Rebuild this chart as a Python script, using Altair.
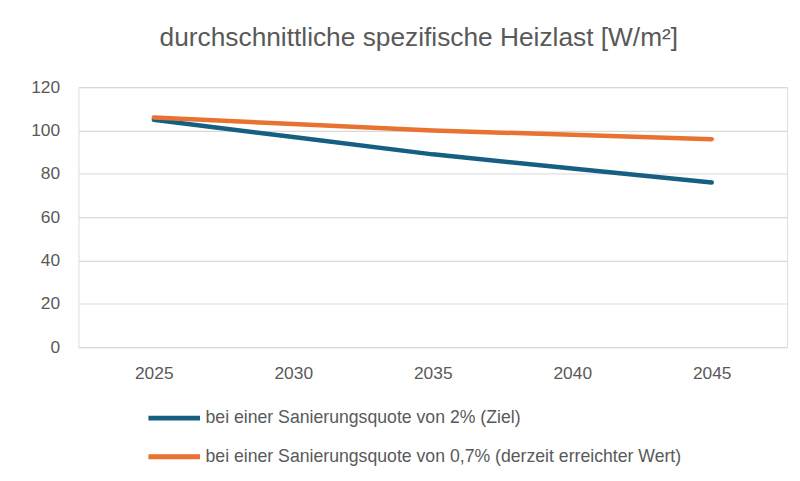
import altair as alt
import pandas as pd

years = ["2025", "2030", "2035", "2040", "2045"]
ziel = [105, 97, 89, 82.5, 76]
derzeit = [106, 103, 100, 98, 96]
series_names = [
    "bei einer Sanierungsquote von 2% (Ziel)",
    "bei einer Sanierungsquote von 0,7% (derzeit erreichter Wert)",
]
colors = ["#156082", "#E97132"]

rows = []
for y, v in zip(years, ziel):
    rows.append({"Jahr": y, "Wert": v, "Serie": series_names[0]})
for y, v in zip(years, derzeit):
    rows.append({"Jahr": y, "Wert": v, "Serie": series_names[1]})
df = pd.DataFrame(rows)

font = "Liberation Sans"

chart = alt.Chart(df).mark_line(strokeWidth=4.5, strokeCap="round").encode(
    x=alt.X("Jahr:O", sort=years,
            scale=alt.Scale(type="point", padding=0.54),
            axis=alt.Axis(title=None, labelAngle=0, ticks=False, domain=False,
                          grid=False, labelPadding=18, labelFontSize=17.5,
                          labelColor="#595959", labelFont=font)),
    y=alt.Y("Wert:Q", scale=alt.Scale(domain=[0, 120]),
            axis=alt.Axis(title=None, values=[0, 20, 40, 60, 80, 100, 120],
                          ticks=False, domain=False, labelPadding=19,
                          labelFontSize=17.5, labelColor="#595959", labelFont=font,
                          gridColor="#d9d9d9", gridWidth=1.2)),
    color=alt.Color("Serie:N", sort=series_names,
                    scale=alt.Scale(domain=series_names, range=colors),
                    legend=alt.Legend(title=None, orient="none", legendX=68, legendY=305,
                                      direction="vertical", symbolType="M-1,0H1",
                                      symbolSize=2704, symbolStrokeWidth=5,
                                      labelFontSize=17.8, labelColor="#595959",
                                      labelFont=font, labelOffset=3, rowPadding=-13,
                                      labelLimit=600)),
).properties(
    width=714,
    height=262,
    title=alt.TitleParams("durchschnittliche spezifische Heizlast [W/m²]",
                          fontSize=26.5, font=font, fontWeight="normal",
                          color="#595959", anchor="middle", dx=-14, offset=27),
    padding={"left": 71, "top": 78, "right": 5, "bottom": 125},
    autosize=alt.AutoSizeParams(type="none"),
).configure_view(stroke=None).configure(background="white")

chart.save("out.html", embed_options={"renderer": "svg", "actions": False})
